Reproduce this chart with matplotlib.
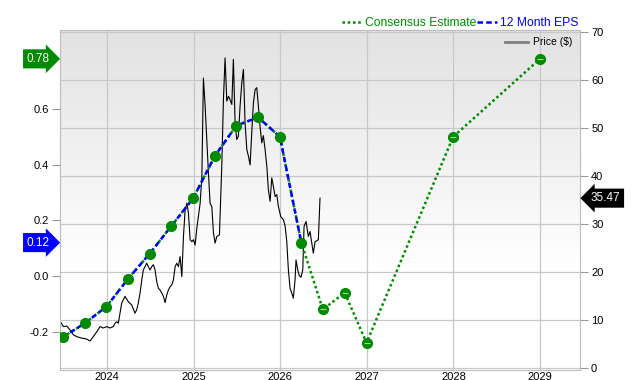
import matplotlib
matplotlib.use('Agg')
import matplotlib.pyplot as plt
import matplotlib.dates as mdates
import matplotlib.transforms as mtransforms
from matplotlib.lines import Line2D
from matplotlib.colors import LinearSegmentedColormap
import numpy as np
import pandas as pd

plt.rcParams['font.family'] = ['Liberation Sans', 'DejaVu Sans']

# ---------------- data ----------------
eps_dates = ['2023-06-30', '2023-09-30', '2023-12-31', '2024-03-31', '2024-06-30',
             '2024-09-30', '2024-12-31', '2025-03-31', '2025-06-30', '2025-09-30',
             '2025-12-31', '2026-03-31']
eps_values = [-0.22, -0.17, -0.11, -0.01, 0.08, 0.18, 0.28, 0.43, 0.54, 0.57, 0.50, 0.12]

est_dates = ['2026-06-30', '2026-09-30', '2026-12-31', '2027-12-31', '2028-12-31']
est_values = [-0.12, -0.06, -0.24, 0.50, 0.78]

price_years = [2023.473, 2023.499, 2023.539, 2023.577, 2023.615, 2023.654, 2023.712,
               2023.769, 2023.807, 2023.845, 2023.885, 2023.923, 2023.961, 2024.000,
               2024.038, 2024.076, 2024.096, 2024.115, 2024.134, 2024.153, 2024.173,
               2024.211, 2024.249, 2024.288, 2024.326, 2024.346, 2024.364, 2024.384,
               2024.404, 2024.422, 2024.461, 2024.480, 2024.499, 2024.519, 2024.537,
               2024.557, 2024.576, 2024.595, 2024.615, 2024.634, 2024.653, 2024.672,
               2024.692, 2024.710, 2024.730, 2024.750, 2024.768, 2024.788, 2024.807,
               2024.826, 2024.845, 2024.865, 2024.884, 2024.903, 2024.923, 2024.941,
               2024.961, 2024.980, 2024.999, 2025.018, 2025.038, 2025.076, 2025.096,
               2025.114, 2025.134, 2025.153, 2025.172, 2025.191, 2025.211, 2025.230,
               2025.249, 2025.269, 2025.299, 2025.326, 2025.345, 2025.364, 2025.384,
               2025.403, 2025.422, 2025.442, 2025.460, 2025.480, 2025.499, 2025.518,
               2025.537, 2025.557, 2025.576, 2025.595, 2025.615, 2025.634, 2025.653,
               2025.672, 2025.691, 2025.711, 2025.730, 2025.749, 2025.768, 2025.788,
               2025.806, 2025.826, 2025.846, 2025.864, 2025.884, 2025.903, 2025.922,
               2025.942, 2025.961, 2025.980, 2026.007, 2026.037, 2026.057, 2026.076,
               2026.095, 2026.114, 2026.134, 2026.152, 2026.172, 2026.183, 2026.203,
               2026.221, 2026.241, 2026.261, 2026.276, 2026.299, 2026.325, 2026.345,
               2026.383, 2026.403, 2026.441, 2026.460]
price_values = [9.5, 8.7, 8.8, 8.0, 7.0, 6.6, 6.3,
                6.1, 5.7, 6.6, 7.6, 8.7, 8.4, 8.7,
                8.4, 8.7, 9.4, 9.7, 9.4, 11.5, 13.6,
                15.0, 13.9, 13.2, 11.5, 12.2, 13.6, 15.7,
                18.4, 20.5, 21.9, 21.2, 20.5, 21.2, 21.6,
                20.5, 18.1, 16.7, 16.3, 15.7, 15.0, 13.7,
                15.3, 16.3, 17.0, 17.4, 18.4, 21.2, 21.9,
                21.2, 23.3, 19.1, 27.5, 33.0, 34.4, 32.4,
                26.8, 26.4, 26.8, 25.7, 29.2, 34.4, 40.0,
                60.5, 54.6, 47.7, 40.7, 34.4, 33.7, 28.2,
                26.1, 27.5, 27.8, 42.1, 56.0, 64.7, 55.7,
                56.7, 56.0, 55.0, 64.4, 51.1, 47.7, 48.4,
                54.6, 59.5, 62.3, 51.1, 45.6, 44.2, 42.4,
                49.1, 55.3, 58.1, 58.5, 54.6, 50.4, 47.0,
                48.5, 45.6, 42.1, 37.2, 34.8, 39.7, 37.9,
                35.8, 36.2, 33.7, 31.6, 31.0, 29.7, 26.5,
                20.5, 16.7, 15.7, 14.6, 18.4, 22.6, 20.5,
                19.3, 19.0, 20.5, 29.6, 30.6, 27.5, 28.5,
                24.0, 26.4, 26.8, 35.47]

year_ticks = [2024, 2025, 2026, 2027, 2028, 2029]
price_ticks = [0, 10, 20, 30, 40, 50, 60, 70]
eps_ticks = [-0.2, 0.0, 0.2, 0.4, 0.6]
last_price = 35.47
last_eps_label = 0.12
last_est_label = 0.78


def year_to_date(y):
    yr = int(np.floor(y))
    start = pd.Timestamp(year=yr, month=1, day=1)
    end = pd.Timestamp(year=yr + 1, month=1, day=1)
    return start + (end - start) * (y - yr)


eps_dt = pd.to_datetime(eps_dates)
est_dt = pd.to_datetime(est_dates)
price_dt = [year_to_date(y) for y in price_years]

GREEN = '#008a00'
BLUE = '#0000ff'
GRID = '#c8c8c8'

fig = plt.figure(figsize=(6.4, 3.8), dpi=100)
ax = fig.add_axes([60 / 640, 10 / 380, 520 / 640, 340 / 380])
ax2 = ax.twinx()

# background gradient (white at bottom to light grey at top)
cmap = LinearSegmentedColormap.from_list(
    'bg', [(0.0, '#ffffff'), (0.3, '#ffffff'), (1.0, '#e2e2e2')])
grad = np.linspace(0, 1, 256).reshape(-1, 1)
ax.imshow(grad, extent=[0, 1, 0, 1], transform=ax.transAxes, aspect='auto',
          cmap=cmap, origin='lower', zorder=-1, interpolation='bilinear')

ax.set_xlim(year_to_date(2023.461), year_to_date(2029.459))
ax.set_ylim(-0.35, 70.52)
ax.set_axisbelow(True)
ax.grid(True, color=GRID, lw=0.9)
ax.set_xticks([pd.Timestamp(year=y, month=1, day=1) for y in year_ticks])
ax.xaxis.set_major_formatter(mdates.DateFormatter('%Y'))
ax.set_yticks(price_ticks)
ax.yaxis.tick_right()
ax.tick_params(axis='y', which='both', length=6, color='#999999', labelsize=8, pad=2,
               right=True, left=False, labelright=True, labelleft=False)
ax.tick_params(axis='x', length=0, labelsize=8, pad=1.5)
for s in ax.spines.values():
    s.set_color('#bdbdbd')

ax.plot(price_dt, price_values, color='black', lw=0.8, zorder=2)

# EPS axis
ax2.patch.set_visible(False)
ax2.set_ylim(-0.3376, 0.8836)
ax2.yaxis.tick_left()
ax2.set_yticks(eps_ticks)
ax2.set_yticklabels(['%.1f' % v for v in eps_ticks])
ax2.tick_params(axis='y', length=6, color='#999999', labelsize=8, pad=2,
                left=True, right=False, labelleft=True, labelright=False)
for s in ax2.spines.values():
    s.set_visible(False)

all_dt = list(eps_dt) + list(est_dt)
all_vals = eps_values + est_values
ax2.plot(all_dt, all_vals, color=GREEN, lw=1.8, ls=(0, (1, 1.1)), zorder=3)
ax2.plot(eps_dt, eps_values, color=BLUE, lw=1.8, ls=(0, (2.2, 1.3)), zorder=4)
ax2.plot(all_dt, all_vals, ls='none', marker='o', ms=7, color=GREEN, mec=GREEN, zorder=5)
ax2.plot(est_dt, est_values, ls='none', marker='_', ms=4, mew=0.8, color='#9fd49f', zorder=6)

# flags
blend_l = mtransforms.blended_transform_factory(ax2.transAxes, ax2.transData)
blend_r = mtransforms.blended_transform_factory(ax.transAxes, ax.transData)
ax2.text(-0.02, last_est_label, '%.2f' % last_est_label, transform=blend_l, ha='right',
         va='center', color='white', fontsize=8.5, clip_on=False, zorder=10,
         bbox=dict(boxstyle='rarrow,pad=0.3', fc=GREEN, ec='none'))
ax2.text(-0.02, last_eps_label, '%.2f' % last_eps_label, transform=blend_l, ha='right',
         va='center', color='white', fontsize=8.5, clip_on=False, zorder=10,
         bbox=dict(boxstyle='rarrow,pad=0.3', fc=BLUE, ec='none'))
ax.text(1.021, last_price, '%.2f' % last_price, transform=blend_r, ha='left',
        va='center', color='white', fontsize=8.5, clip_on=False, zorder=10,
        bbox=dict(boxstyle='larrow,pad=0.3', fc='black', ec='none'))

# legends
h1 = Line2D([], [], color=GREEN, lw=1.8, ls=(0, (1, 1.1)))
h2 = Line2D([], [], color=BLUE, lw=1.8, ls=(0, (2.2, 1.3)))
leg = ax2.legend([h1, h2], ['Consensus Estimate', '12 Month EPS'], loc='lower right',
                 bbox_to_anchor=(1.0, 1.0), ncol=2, frameon=False, fontsize=8.7,
                 handlelength=1.6, handletextpad=0.3, columnspacing=0.1,
                 borderaxespad=0.0, borderpad=0.1)
for t, c in zip(leg.get_texts(), [GREEN, BLUE]):
    t.set_color(c)
ax2.add_artist(leg)
hp = Line2D([], [], color='#808080', lw=2)
ax2.legend([hp], ['Price ($)'], loc='upper right', frameon=False, fontsize=7.5,
           handlelength=2.2, handletextpad=0.5, borderaxespad=0.3)

fig.savefig('out.png', dpi=100)
